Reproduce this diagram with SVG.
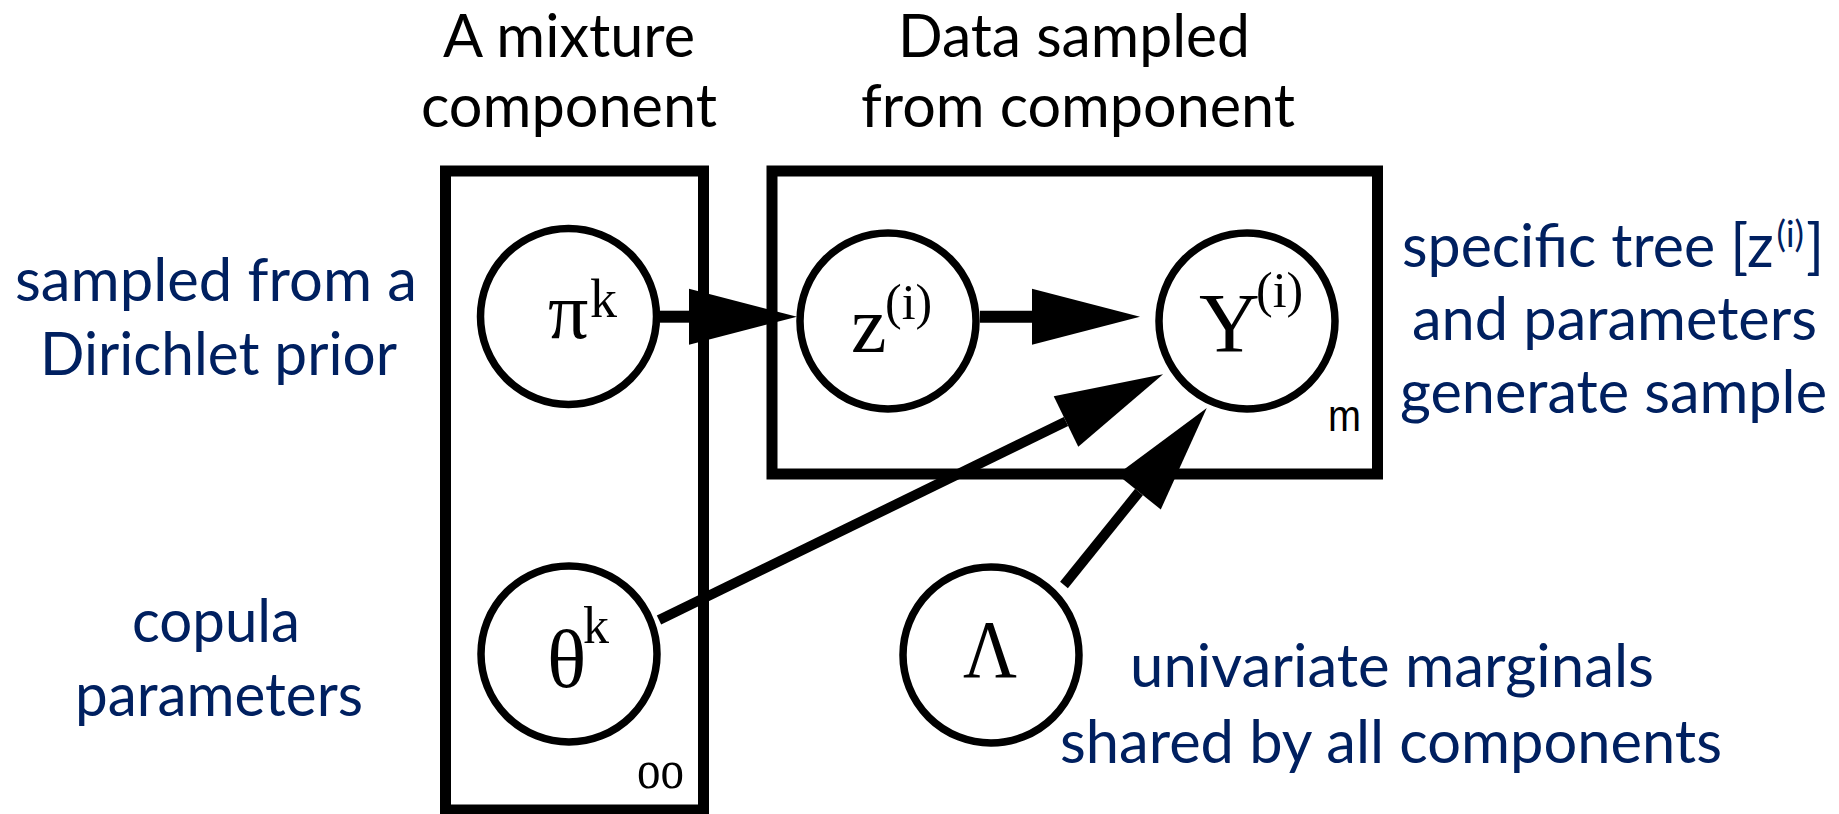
<svg xmlns="http://www.w3.org/2000/svg" width="1839" height="814" viewBox="0 0 1839 814">
  <style>
    .plate { fill: none; stroke: #000; stroke-width: 11; }
    .node { fill: #fff; stroke: #000; stroke-width: 7.5; }
    .sym { font-family: "Liberation Serif", "Times New Roman", serif; fill: #000; }
    .hdr { font-family: Lato, "Liberation Sans", sans-serif; font-size: 60px; fill: #000; }
    .lbl { font-family: Lato, "Liberation Sans", sans-serif; font-size: 60px; fill: #002060; }
    .edge { stroke: #000; fill: none; }
  </style>
  <defs>
    <marker id="ah" markerUnits="userSpaceOnUse" viewBox="0 0 110 60" markerWidth="110" markerHeight="60" refX="0" refY="30" orient="auto" overflow="visible">
      <path d="M0,2 L108,30 L0,58 Z" fill="#000"/>
    </marker>
  </defs>
  <rect width="1839" height="814" fill="#fff"/>

  <!-- headers -->
  <g id="headers">
    <text class="hdr" x="443" y="57" textLength="252" lengthAdjust="spacingAndGlyphs">A mixture</text>
    <text class="hdr" x="421" y="127" textLength="296" lengthAdjust="spacingAndGlyphs">component</text>
    <text class="hdr" x="898" y="57" textLength="352" lengthAdjust="spacingAndGlyphs">Data sampled</text>
    <text class="hdr" x="861" y="127" textLength="434" lengthAdjust="spacingAndGlyphs">from component</text>
  </g>

  <!-- plates -->
  <g id="plate-mixture">
    <rect class="plate" x="445.5" y="171" width="258" height="639"/>
    <text class="sym" x="637" y="788" font-size="54" textLength="47" lengthAdjust="spacingAndGlyphs">oo</text>
  </g>
  <g id="plate-data">
    <rect class="plate" x="772" y="171" width="605.5" height="303"/>
    <text x="1328" y="431" font-family="'Liberation Sans', Arial, sans-serif" font-size="44" textLength="33" lengthAdjust="spacingAndGlyphs">m</text>
  </g>

  <!-- connectors -->
  <g id="connectors">
    <line class="edge" x1="660" y1="316.7" x2="689" y2="316.7" stroke-width="12" marker-end="url(#ah)"/>
    <line class="edge" x1="980" y1="316.7" x2="1032" y2="316.7" stroke-width="12" marker-end="url(#ah)"/>
    <line class="edge" x1="659" y1="620" x2="1066" y2="421.5" stroke-width="10" marker-end="url(#ah)"/>
    <line class="edge" x1="1064" y1="585" x2="1139" y2="492" stroke-width="10" marker-end="url(#ah)"/>
  </g>

  <!-- nodes -->
  <g id="node-pi">
    <circle class="node" cx="568.5" cy="316.5" r="88"/>
    <text class="sym"><tspan x="548" y="338" font-size="80">π</tspan><tspan x="590" y="317" font-size="54">k</tspan></text>
  </g>
  <g id="node-z">
    <circle class="node" cx="888" cy="321" r="88"/>
    <text class="sym"><tspan x="851" y="352" font-size="80">z</tspan><tspan x="885" y="319" font-size="50">(i)</tspan></text>
  </g>
  <g id="node-Y">
    <circle class="node" cx="1247" cy="321" r="88"/>
    <text class="sym"><tspan x="1199" y="352" font-size="84">Y</tspan><tspan x="1256" y="307" font-size="50">(i)</tspan></text>
  </g>
  <g id="node-theta">
    <circle class="node" cx="569" cy="654" r="88"/>
    <text class="sym"><tspan x="547" y="687" font-size="82">θ</tspan><tspan x="583" y="643" font-size="52">k</tspan></text>
  </g>
  <g id="node-lambda">
    <circle class="node" cx="991" cy="655" r="88"/>
    <text class="sym" x="963" y="677" font-size="82" textLength="54" lengthAdjust="spacingAndGlyphs">Λ</text>
  </g>

  <!-- annotations -->
  <g id="label-dirichlet">
    <text class="lbl" x="15" y="301" textLength="402" lengthAdjust="spacingAndGlyphs">sampled from a</text>
    <text class="lbl" x="40" y="375" textLength="357" lengthAdjust="spacingAndGlyphs">Dirichlet prior</text>
  </g>
  <g id="label-copula">
    <text class="lbl" x="132" y="642" textLength="168" lengthAdjust="spacingAndGlyphs">copula</text>
    <text class="lbl" x="75" y="716" textLength="288" lengthAdjust="spacingAndGlyphs">parameters</text>
  </g>
  <g id="label-tree">
    <text class="lbl" x="1402" y="267" textLength="422" lengthAdjust="spacingAndGlyphs">specific tree [z<tspan dx="3" dy="-20" font-size="36">(i)</tspan><tspan dx="2" dy="20">]</tspan></text>
    <text class="lbl" x="1412" y="340" textLength="405" lengthAdjust="spacingAndGlyphs">and parameters</text>
    <text class="lbl" x="1400" y="413" textLength="427" lengthAdjust="spacingAndGlyphs">generate sample</text>
  </g>
  <g id="label-marginals">
    <text class="lbl" x="1130" y="687" textLength="524" lengthAdjust="spacingAndGlyphs">univariate marginals</text>
    <text class="lbl" x="1060" y="763" textLength="662" lengthAdjust="spacingAndGlyphs">shared by all components</text>
  </g>
</svg>
